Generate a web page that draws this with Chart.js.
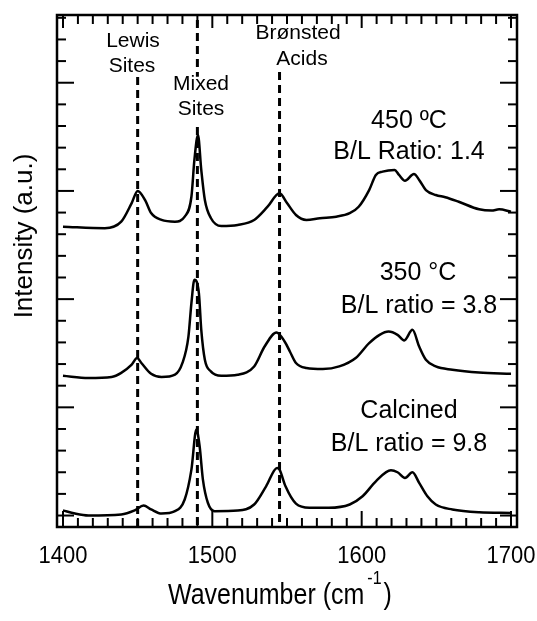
<!DOCTYPE html>
<html>
<head>
<meta charset="utf-8">
<title>Pyridine IR spectra</title>
<script src="https://cdn.jsdelivr.net/npm/chart.js@4.4.1/dist/chart.umd.min.js"></script>
<style>
  html, body { margin: 0; padding: 0; background: #fff; }
  #wrap { width: 537px; height: 621px; position: relative; }
</style>
</head>
<body>
<div id="wrap"><canvas id="irChart"></canvas></div>
<script>
// Spectra: wavenumber (cm-1) and offset intensity (a.u.)
const hot450X = [1400, 1428, 1439, 1446, 1450, 1455, 1459, 1466, 1475, 1481.5, 1486, 1488, 1490.4, 1492.6, 1495, 1499, 1506, 1517, 1528, 1537, 1545, 1550, 1556, 1563, 1572, 1583, 1592, 1598, 1605, 1609.5, 1614, 1622, 1625, 1629, 1635, 1638.5, 1643, 1649.6, 1656, 1665, 1678.6, 1687, 1692, 1700];
const hot450Y = [13.35, 13.28, 13.58, 14.44, 15.0, 14.58, 13.98, 13.66, 13.58, 13.81, 14.73, 16.43, 17.58, 15.97, 14.58, 13.75, 13.38, 13.43, 13.66, 14.27, 14.89, 14.44, 13.89, 13.66, 13.74, 13.81, 13.97, 14.27, 15.04, 15.74, 15.89, 15.97, 15.74, 15.47, 15.78, 15.51, 15.04, 14.81, 14.71, 14.50, 14.15, 14.09, 14.15, 14.04];

const hot350X = [1400, 1417, 1432.5, 1439, 1446, 1449.6, 1452.5, 1459, 1466, 1475, 1480, 1484, 1486, 1488, 1491, 1492.6, 1495, 1499, 1506, 1517, 1528, 1535, 1543, 1548.5, 1552, 1556, 1563, 1574, 1585, 1596, 1605, 1612, 1618, 1624, 1628.5, 1634, 1638.5, 1643, 1649.6, 1660.7, 1678.6, 1700];
const hot350Y = [6.46, 6.35, 6.40, 6.59, 6.97, 7.28, 7.05, 6.55, 6.40, 6.51, 7.05, 8.27, 9.82, 10.89, 10.28, 8.58, 7.20, 6.66, 6.46, 6.51, 6.89, 7.81, 8.46, 8.03, 7.57, 7.05, 6.82, 6.77, 6.89, 7.28, 7.97, 8.35, 8.50, 8.35, 8.09, 8.58, 7.81, 7.20, 6.89, 6.74, 6.61, 6.55];

const calcinedX = [1400, 1408, 1417, 1439, 1448, 1454, 1459, 1466, 1475, 1481.5, 1486, 1489.3, 1491.5, 1493.7, 1497, 1501.5, 1517, 1528, 1536, 1543.4, 1545, 1549, 1556, 1565, 1578, 1592, 1600.6, 1609.5, 1619.6, 1624, 1629, 1634, 1638.5, 1644, 1649.6, 1660.7, 1678.6, 1700];
const calcinedY = [0.24, 0.09, 0.0, 0.05, 0.24, 0.46, 0.28, 0.09, 0.20, 0.74, 2.12, 3.97, 3.20, 1.66, 0.59, 0.20, 0.23, 0.51, 1.35, 2.20, 2.12, 1.35, 0.55, 0.36, 0.36, 0.51, 0.89, 1.58, 2.09, 2.00, 1.74, 2.00, 1.51, 0.89, 0.51, 0.28, 0.15, 0.12];

// pyridine adsorption bands marked with dashed lines
const sitePositions = [1450, 1490, 1545];
const siteLineTops = [20.26, 22.9, 20.5];
const mixedLabelGap = [20.28, 17.95];   // mixed line is interrupted by its label

const xTickValues = [1400, 1500, 1600, 1700];
const xTickLabels = ["1400", "1500", "1600", "1700"];

const X_MIN = 1396, X_MAX = 1704;
const Y_MIN = -0.53, Y_MAX = 23.13;
const FONT = '"Liberation Sans", Arial, sans-serif';

function toPoints(xs, ys) {
    return xs.map((v, i) => ({x: v, y: ys[i]}));
}

function spectrum(label, xs, ys) {
    return {
        label: label,
        data: toPoints(xs, ys),
        borderColor: '#000',
        borderWidth: 2.5,
        pointRadius: 0,
        cubicInterpolationMode: 'monotone',
        fill: false,
        order: 0
    };
}

function siteLine(label, pts) {
    return {
        label: label,
        data: pts,
        borderColor: '#000',
        borderWidth: 3,
        borderDash: [8, 5],
        pointRadius: 0,
        spanGaps: false,
        fill: false,
        order: 1
    };
}

const datasets = [
    spectrum('450 ºC', hot450X, hot450Y),
    spectrum('350 °C', hot350X, hot350Y),
    spectrum('Calcined', calcinedX, calcinedY),
    siteLine('Lewis', [{x: sitePositions[0], y: siteLineTops[0]}, {x: sitePositions[0], y: Y_MIN}]),
    siteLine('Mixed', [
        {x: sitePositions[1], y: siteLineTops[1]},
        {x: sitePositions[1], y: mixedLabelGap[0]},
        {x: sitePositions[1], y: null},
        {x: sitePositions[1], y: mixedLabelGap[1]},
        {x: sitePositions[1], y: Y_MIN}
    ]),
    siteLine('Brønsted', [{x: sitePositions[2], y: siteLineTops[2]}, {x: sitePositions[2], y: Y_MIN}])
];

function drawText(ctx, text, x, baseline, size, align, scaleY) {
    ctx.save();
    ctx.font = size + 'px ' + FONT;
    ctx.textAlign = align || 'center';
    ctx.textBaseline = 'alphabetic';
    ctx.translate(x, baseline);
    ctx.scale(1, scaleY || 1);
    ctx.fillText(text, 0, 0);
    ctx.restore();
}

function seg(ctx, x1, y1, x2, y2) {
    ctx.beginPath();
    ctx.moveTo(x1, y1);
    ctx.lineTo(x2, y2);
    ctx.stroke();
}

// frame, inward ticks and all the text
const frameAndText = {
    id: 'frameAndText',
    afterDatasetsDraw(chart) {
        const ctx = chart.ctx;
        const a = chart.chartArea;
        const x = chart.scales.x, y = chart.scales.y;
        ctx.save();
        ctx.strokeStyle = '#000';
        ctx.fillStyle = '#000';
        ctx.lineWidth = 2;

        for (let v = 1400; v <= 1700; v += 10) {
            const px = x.getPixelForValue(v);
            const major = xTickValues.includes(v);
            seg(ctx, px, a.bottom, px, a.bottom - (major ? 16 : 9));
            seg(ctx, px, a.top, px, a.top + (major ? 13 : 9));
        }
        for (let v = 0; v <= 23; v++) {
            const py = y.getPixelForValue(v);
            const len = v % 5 === 0 ? 17 : 9;
            seg(ctx, a.left, py, a.left + len, py);
            seg(ctx, a.right, py, a.right - len, py);
        }
        ctx.lineWidth = 2.5;
        ctx.strokeRect(a.left, a.top, a.right - a.left, a.bottom - a.top);

        xTickValues.forEach((v, i) => {
            drawText(ctx, xTickLabels[i], x.getPixelForValue(v), 563, 22, 'center', 1.12);
        });

        // x title with superscript
        ctx.font = '25px ' + FONT;
        const main = 'Wavenumber (cm';
        const wMain = ctx.measureText(main).width;
        const startX = 168;
        drawText(ctx, main, startX, 604, 25, 'left', 1.15);
        drawText(ctx, '-1', startX + wMain + 3, 584, 16, 'left', 1.1);
        ctx.font = '16px ' + FONT;
        const wSup = ctx.measureText('-1').width;
        drawText(ctx, ')', startX + wMain + 5 + wSup, 604, 25, 'left', 1.15);

        // y title
        ctx.save();
        ctx.translate(32, 236);
        ctx.rotate(-Math.PI / 2);
        ctx.font = '26px ' + FONT;
        ctx.textAlign = 'center';
        ctx.textBaseline = 'alphabetic';
        ctx.fillText('Intensity (a.u.)', 0, 0);
        ctx.restore();

        // band labels
        drawText(ctx, 'Lewis', 133, 47, 21);
        drawText(ctx, 'Sites', 132, 72, 21);
        drawText(ctx, 'Mixed', 201, 90, 21);
        drawText(ctx, 'Sites', 201, 115, 21);
        drawText(ctx, 'Brønsted', 298, 39, 21);
        drawText(ctx, 'Acids', 302, 65, 21);

        // sample labels
        drawText(ctx, '450 ºC', 409, 128, 25);
        drawText(ctx, 'B/L Ratio: 1.4', 409, 159, 25);
        drawText(ctx, '350 °C', 418, 280, 25);
        drawText(ctx, 'B/L ratio = 3.8', 419, 313, 25);
        drawText(ctx, 'Calcined', 409, 418, 25);
        drawText(ctx, 'B/L ratio = 9.8', 409, 451, 25);
        ctx.restore();
    }
};

new Chart(document.getElementById('irChart'), {
    type: 'line',
    data: { datasets: datasets },
    options: {
        responsive: true,
        maintainAspectRatio: false,
        devicePixelRatio: 1,
        animation: false,
        layout: { padding: { left: 57, top: 15, right: 20, bottom: 94 } },
        plugins: { legend: { display: false }, tooltip: { enabled: false } },
        scales: {
            x: { type: 'linear', min: X_MIN, max: X_MAX, display: false },
            y: { type: 'linear', min: Y_MIN, max: Y_MAX, display: false }
        }
    },
    plugins: [frameAndText]
});
</script>
</body>
</html>
